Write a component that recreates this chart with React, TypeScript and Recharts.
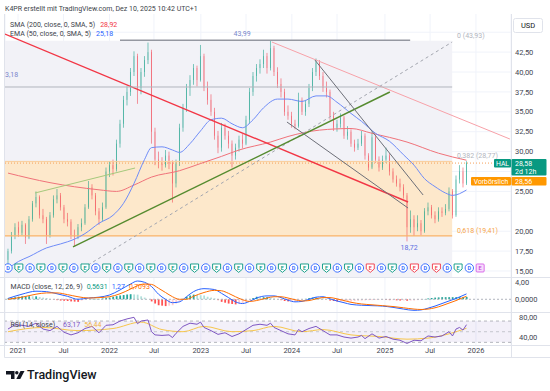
import React from 'react';
import { ComposedChart, Bar, Line, XAxis, YAxis, CartesianGrid, ReferenceLine, ReferenceArea, Scatter, Cell } from 'recharts';

const FONT = "Roboto, 'Noto Sans', 'Liberation Sans', sans-serif";

// Bi-weekly HAL candles (index 0 = early Dec 2020, index 131 = Dec 2025)
const opens = [
  16.4,17.5,19.5,20.5,19.8,20.8,19.2,21.5,23.5,24.3,
  22.0,21.5,19.5,22.0,24.0,24.5,23.0,21.5,21.2,19.5,
  19.3,20.5,21.0,23.0,25.5,24.5,22.5,21.5,23.0,27.5,
  28.3,27.8,31.0,33.5,36.5,37.5,40.0,42.0,38.0,40.0,
  41.5,42.5,32.5,29.0,28.5,28.3,29.5,28.5,26.0,28.5,
  33.0,35.5,38.0,39.0,40.5,39.0,42.0,38.0,36.5,35.0,
  32.0,30.5,33.0,32.0,31.0,29.5,30.5,31.5,31.0,34.0,
  37.5,39.5,40.5,41.0,42.0,40.5,43.0,40.0,38.5,37.5,
  35.0,34.5,33.5,33.2,36.5,35.0,36.0,38.0,40.0,41.2,
  39.5,38.0,37.5,34.5,33.0,33.5,34.3,32.0,32.5,31.0,
  30.5,31.0,32.0,29.5,28.0,31.8,29.0,28.0,29.0,29.5,
  27.5,26.5,26.0,25.5,24.5,20.5,21.5,20.5,21.0,20.0,
  22.5,23.0,22.0,21.5,22.5,22.3,22.8,25.0,22.0,26.5,
  27.5,26.0,
];
const highs = [
  17.8,19.9,21.0,21.2,21.3,21.0,21.9,23.8,25.0,24.5,
  22.8,21.8,22.4,24.5,25.3,24.8,23.3,22.3,21.5,20.2,
  20.9,21.6,23.4,26.3,25.9,24.8,22.9,23.6,28.0,28.8,
  29.0,31.5,34.0,37.0,38.2,40.5,42.6,42.3,40.5,42.0,
  43.7,42.8,33.0,30.0,29.3,30.2,30.0,28.9,29.0,33.5,
  36.0,38.5,39.6,41.0,40.8,43.4,42.3,38.8,37.2,35.5,
  32.6,33.6,33.5,32.6,31.4,31.0,32.0,32.2,34.5,38.0,
  40.0,41.0,41.6,42.8,42.4,43.99,43.3,40.6,39.2,37.9,
  35.8,35.0,34.0,37.4,36.8,36.5,38.5,40.5,41.7,41.5,
  40.0,38.8,37.8,35.0,34.0,34.8,34.5,33.2,32.8,31.5,
  31.6,32.6,32.3,29.8,32.5,32.0,29.4,29.5,30.5,29.8,
  27.9,27.0,26.6,25.9,24.8,22.6,22.0,22.0,21.4,22.9,
  23.6,23.3,22.5,23.0,23.0,23.4,25.5,25.3,27.0,28.3,
  28.0,28.8,
];
const lows = [
  15.9,17.2,19.0,19.3,19.5,18.4,19.0,21.2,23.0,21.6,
  21.0,18.4,19.2,21.7,23.5,22.6,21.0,20.6,19.0,18.1,
  19.0,20.0,20.8,22.8,24.0,22.0,20.8,21.2,22.8,26.8,
  27.0,27.5,30.5,33.0,35.8,37.0,39.5,36.0,37.2,39.4,
  41.0,31.0,28.3,27.9,27.6,28.0,27.8,23.6,25.5,28.2,
  32.5,35.0,37.0,38.4,38.2,38.8,37.6,35.9,34.5,31.5,
  29.8,30.0,31.5,30.4,28.0,29.0,30.0,30.4,30.8,33.5,
  37.0,38.8,39.8,40.5,39.8,40.2,39.5,38.0,36.8,34.5,
  34.0,33.0,32.8,33.0,34.6,34.5,35.6,37.6,39.5,39.0,
  37.5,36.8,34.0,32.6,32.5,33.0,31.6,31.5,30.6,30.0,
  30.2,30.7,29.0,27.6,27.8,28.6,27.5,27.7,28.6,27.0,
  26.1,25.6,25.0,24.1,18.72,19.8,19.4,20.0,19.5,19.8,
  22.0,21.6,21.0,21.2,21.8,22.0,22.5,21.6,21.8,26.0,
  25.5,25.8,
];
const closes = [
  17.5,19.5,20.5,19.8,20.8,19.2,21.5,23.5,24.3,22.0,
  21.5,19.5,22.0,24.0,24.5,23.0,21.5,21.2,19.5,19.3,
  20.5,21.0,23.0,25.5,24.5,22.5,21.5,23.0,27.5,28.3,
  27.8,31.0,33.5,36.5,37.5,40.0,42.0,38.0,40.0,41.5,
  42.5,32.5,29.0,28.5,28.3,29.5,28.5,26.0,28.5,33.0,
  35.5,38.0,39.0,40.5,39.0,42.0,38.0,36.5,35.0,32.0,
  30.5,33.0,32.0,31.0,29.5,30.5,31.5,31.0,34.0,37.5,
  39.5,40.5,41.0,42.0,40.5,43.0,40.0,38.5,37.5,35.0,
  34.5,33.5,33.2,36.5,35.0,36.0,38.0,40.0,41.2,39.5,
  38.0,37.5,34.5,33.0,33.5,34.3,32.0,32.5,31.0,30.5,
  31.0,32.0,29.5,28.0,31.8,29.0,28.0,29.0,29.5,27.5,
  26.5,26.0,25.5,24.5,20.5,21.5,20.5,21.0,20.0,22.5,
  23.0,22.0,21.5,22.5,22.3,22.8,25.0,22.0,26.5,27.5,
  26.0,28.58,
];

// Moving averages (read at sample candles)
const emaIdx = [0,3,6,11,15,19,22,26,30,33,36,39,41,44,47,49,52,55,58,61,64,67,70,73,77,80,84,88,91,94,98,101,105,109,113,116,119,122,125,127,131];
const emaVals = [15.3,16.2,16.8,17.9,18.4,19.0,19.7,21.0,22.0,23.5,26.0,29.0,30.5,30.6,30.2,29.9,31.0,32.6,34.0,34.2,33.5,33.0,34.0,35.5,36.6,36.6,36.3,37.0,37.0,36.2,34.8,33.8,32.3,31.3,29.6,28.3,26.6,25.6,24.8,24.5,25.18];
const smaIdx = [0,12,26,31,36,41,49,55,61,66,75,80,89,98,104,114,123,131];
const smaVals = [27.3,26.1,25.2,25.0,25.8,26.8,27.6,28.5,29.4,30.2,31.2,31.9,32.7,32.9,32.3,31.2,29.8,28.92];

// MACD
const macdIdx = [0,4,8,11,14,17,20,23,26,29,32,35,37,39,41,43,45,47,49,51,53,56,59,61,63,65,67,69,71,74,76,78,80,82,84,86,88,90,92,94,96,98,101,104,107,110,113,116,118,120,122,124,126,128,130,131];
const macdVals = [0.2,1.2,1.9,1.8,1.3,0.7,0.0,0.3,0.5,1.0,2.2,3.6,4.3,4.0,3.0,1.2,0.0,-0.8,-0.6,0.6,1.8,2.5,2.3,1.4,0.4,-0.6,-1.0,-0.5,0.3,0.8,0.8,0.4,-0.2,-0.6,-0.5,0.0,0.5,0.6,0.1,-0.4,-0.8,-1.2,-1.4,-1.5,-1.6,-1.9,-2.3,-2.6,-2.5,-2.1,-1.6,-1.0,-0.4,0.2,0.9,1.27];
const signalVals = [0.0,0.5,1.2,1.5,1.5,1.1,0.6,0.3,0.4,0.6,1.3,2.4,3.2,3.6,3.5,2.6,1.6,0.6,0.0,0.0,0.7,1.6,2.1,2.0,1.4,0.6,-0.1,-0.5,-0.3,0.3,0.6,0.6,0.3,-0.1,-0.4,-0.3,0.1,0.4,0.4,0.1,-0.3,-0.7,-1.1,-1.3,-1.5,-1.7,-2.0,-2.3,-2.4,-2.3,-2.0,-1.5,-0.9,-0.3,0.4,0.71];
const histVals = [
  0.2,0.35,0.5,0.6,0.7,0.72,0.72,0.7,0.7,0.55,
  0.4,0.3,0.1,-0.05,-0.2,-0.3,-0.35,-0.4,-0.5,-0.55,
  -0.6,-0.3,-0.1,0.0,0.05,0.1,0.1,0.2,0.3,0.4,
  0.6,0.75,0.9,1.0,1.1,1.2,1.15,1.1,0.7,0.4,
  0.0,-0.5,-1.0,-1.4,-1.5,-1.6,-1.5,-1.4,-1.0,-0.6,
  0.1,0.6,0.9,1.1,1.0,0.95,0.9,0.6,0.4,0.2,
  -0.2,-0.6,-0.8,-1.0,-1.1,-1.2,-1.0,-0.9,-0.5,0.0,
  0.3,0.6,0.5,0.5,0.5,0.35,0.2,0.0,-0.2,-0.4,
  -0.5,-0.5,-0.5,-0.3,-0.1,0.1,0.3,0.4,0.4,0.3,
  0.2,0.0,-0.3,-0.4,-0.5,-0.5,-0.5,-0.5,-0.5,-0.4,
  -0.35,-0.3,-0.25,-0.2,-0.2,-0.15,-0.1,-0.1,-0.15,-0.2,
  -0.2,-0.25,-0.3,-0.3,-0.35,-0.3,-0.3,-0.2,-0.1,0.05,
  0.2,0.3,0.4,0.45,0.5,0.5,0.5,0.5,0.5,0.5,
  0.5,0.56,
];

// RSI
const rsiIdx = [0,2,4,6,8,10,12,14,16,18,20,22,24,26,28,30,32,34,36,37,38,40,41,42,44,46,47,48,50,52,54,55,56,58,60,62,64,66,68,70,72,74,75,76,78,80,82,83,84,86,88,90,92,94,96,98,100,101,102,104,106,108,110,112,114,116,118,120,122,124,126,127,128,129,130,131];
const rsiVals = [55,63,62,60,66,55,52,60,49,44,48,56,60,48,62,63,70,74,77,65,70,72,50,44,43,44,39,47,60,66,64,68,58,52,45,48,41,46,54,62,64,62,66,58,52,46,44,54,50,56,60,52,44,44,40,38,40,43,37,46,38,41,36,34,28,34,33,42,40,42,50,42,55,58,53,63.17];
const rsiMaIdx = [0,10,20,30,38,44,50,56,64,70,76,84,90,98,106,114,120,126,131];
const rsiMaVals = [50,58,52,56,68,54,50,60,50,52,60,50,54,44,41,36,38,46,56.44];

// Axes
const xTickIdx = [2.86,15.86,29.0,41.7,55.1,68.0,81.1,94.0,107.7,120.6,133.7];
const xTickLabels = ['2021','Jul','2022','Jul','2023','Jul','2024','Jul','2025','Jul','2026'];
const priceTicks = [15,17.5,20,25,30,32.5,35,37.5,40,42.5];
const gridPrices = [15,17.5,20,22.5,25,27.5,30,32.5,35,37.5,40,42.5,45];

// Events (dividends / earnings)
const eventIdx = [0,3.1,6.3,9.4,12.5,15.7,18.8,22.0,25.1,28.2,31.4,34.5,37.6,40.8,43.9,47.1,50.2,53.3,56.5,59.6,62.7,65.9,69.0,72.2,75.3,78.4,81.6,84.7,87.8,91.0,94.1,97.3,100.4,103.5,106.7,109.8,112.9,116.1,119.2,122.4,125.5,128.6,131.8,134.9];
const eventKinds = 'DEDEDEDEDEDEDEDEDEDEDEDEDEDEDEDEDRDEDRDRDEDF';

// Fibonacci levels
const fib0 = 43.93, fib382 = 28.77, fib618 = 19.41;
const lastPre = 28.56;

const X0 = -0.857, X1 = 143.71;
const Y0 = 14.246, Y1 = 47.29;

const toMap = (idx: number[], vals: number[]) => { const m = new Map<number, number>(); idx.forEach((k, j) => m.set(k, vals[j])); return m; };
const emaMap = toMap(emaIdx, emaVals);
const smaMap = toMap(smaIdx, smaVals);
const macdMap = toMap(macdIdx, macdVals);
const sigMap = toMap(macdIdx, signalVals);
const rsiMap = toMap(rsiIdx, rsiVals);
const rsiMaMap = toMap(rsiMaIdx, rsiMaVals);

const mainData = closes.map((c, i) => ({
  i, o: opens[i], h: highs[i], l: lows[i], c,
  range: [lows[i], highs[i]],
  ema: emaMap.get(i), sma: smaMap.get(i),
}));
const macdData = closes.map((_, i) => ({ i, h: histVals[i], m: macdMap.get(i), s: sigMap.get(i) }));
const rsiData = closes.map((_, i) => ({ i, r: rsiMap.get(i), ma: rsiMaMap.get(i) }));
const eventData = eventIdx.map((x, k) => ({ i: x, p: 15.38, t: eventKinds[k] }));

const drawings = [
  { a: [-0.86, 44.77], b: [114.3, 23.67], color: '#f23645', w: 1.4 },
  { a: [75.4, 43.77], b: [143.4, 31.58], color: '#f7a1a8', w: 1 },
  { a: [32, 43.99], b: [114.9, 43.99], color: '#9598a1', w: 1.5 },
  { a: [-0.86, 38.12], b: [126.9, 38.12], color: '#b2b5be', w: 1 },
  { a: [22.86, 15.75], b: [126.9, 43.77], color: '#a3a6af', w: 1, dash: '3 3' },
  { a: [18.57, 18.02], b: [109.1, 37.49], color: '#558b2f', w: 1.4 },
  { a: [7.71, 24.8], b: [36.3, 27.94], color: '#a5c97c', w: 1 },
  { a: [87.7, 41.5], b: [118.6, 24.55], color: '#6d6f78', w: 1 },
  { a: [79.7, 33.72], b: [114.3, 22.91], color: '#6d6f78', w: 1 },
];

const annotations = [
  { i: 66.9, p: 43.99, text: '43,99', color: '#7986cb', dx: 0, dy: -4.6, anchor: 'middle' },
  { i: -0.86, p: 38.12, text: '3,18', color: '#7986cb', dx: 0, dy: -10.3, anchor: 'start' },
  { i: 114.6, p: 18.72, text: '18,72', color: '#5b6ee1', dx: 0, dy: 8.5, anchor: 'middle' },
  { i: 128.3, p: fib0, text: '0 (43,93)', color: '#b2b5be', dx: 0, dy: -3, anchor: 'start' },
  { i: 128.3, p: fib382, text: '0,382 (28,77)', color: '#b2b5be', dx: 0, dy: -3.7, anchor: 'start' },
  { i: 128.3, p: fib618, text: '0,618 (19,41)', color: '#f7a54a', dx: 0, dy: -3.2, anchor: 'start' },
];

const comma2 = (v: number) => v.toFixed(2).replace('.', ',');

const Candle = (props: any) => {
  const { x, y, width, height, payload } = props;
  if (!payload || height == null) return null;
  const { o, h, l, c } = payload;
  const up = c >= o;
  const color = up ? '#089981' : '#f23645';
  const span = h - l || 1;
  const yo = y + ((h - o) / span) * height;
  const yc = y + ((h - c) / span) * height;
  const cx = x + width / 2;
  return (
    <g>
      <line x1={cx} x2={cx} y1={y} y2={y + height} stroke={color} strokeWidth={0.8} strokeOpacity={0.65} />
      <rect x={x} y={Math.min(yo, yc)} width={width} height={Math.max(Math.abs(yc - yo), 0.8)} fill={color} />
    </g>
  );
};

const EventIcon = (props: any) => {
  const { cx, cy, payload } = props;
  if (cx == null) return null;
  const t = payload.t;
  if (t === 'D') {
    return (
      <g>
        <circle cx={cx} cy={cy} r={4.2} fill="#fff" stroke="#2962ff" strokeWidth={0.9} />
        <text x={cx} y={cy + 2} textAnchor="middle" fontSize={5.5} fill="#2962ff" fontFamily={FONT} fontWeight={600}>D</text>
      </g>
    );
  }
  if (t === 'F') {
    return (
      <g>
        <rect x={cx - 4} y={cy - 4} width={8} height={8} rx={1} fill="#f7dcfb" stroke="#d55fe8" strokeWidth={0.9} />
        <text x={cx} y={cy + 2} textAnchor="middle" fontSize={5.5} fill="#c43fdc" fontFamily={FONT} fontWeight={600}>E</text>
      </g>
    );
  }
  const col = t === 'R' ? '#f23645' : '#089981';
  return (
    <g>
      <path d={`M${cx - 4},${cy - 4} h8 v5 l-4,3.4 l-4,-3.4 z`} fill="#fff" stroke={col} strokeWidth={0.9} />
      <text x={cx} y={cy + 1.6} textAnchor="middle" fontSize={5.5} fill={col} fontFamily={FONT} fontWeight={600}>E</text>
    </g>
  );
};

const AnnotText = (props: any) => {
  const { cx, cy, payload } = props;
  if (cx == null) return null;
  return (
    <text x={cx + payload.dx} y={cy + payload.dy} textAnchor={payload.anchor} fontSize={7} fill={payload.color} fontFamily={FONT}>
      {payload.text}
    </text>
  );
};

const RsiTick = (props: any) => {
  const { x, y, payload } = props;
  const yy = Math.max(y, 4.5);
  return (
    <text x={x + 4} y={yy} dy="0.35em" fontSize={7.5} fill="#434651" fontFamily={FONT} textAnchor="start">
      {comma2(payload.value)}
    </text>
  );
};

const histColor = (k: number) => {
  const v = histVals[k];
  const prev = k > 0 ? histVals[k - 1] : 0;
  if (v >= 0) return v >= prev ? '#26a69a' : '#b2dfdb';
  return v < prev ? '#ff5252' : '#ffcdd2';
};

const axisTick = { fontSize: 7.5, fill: '#434651', fontFamily: FONT };
const tickLabelMap = new Map<number, string>();
xTickIdx.forEach((v, k) => tickLabelMap.set(v, xTickLabels[k]));

export default function App() {
  return (
    <div style={{ position: 'absolute', left: 0, top: 0, width: 550, height: 391, background: '#fff', overflow: 'hidden', fontFamily: FONT }}>
      {/* Main price pane */}
      <div style={{ position: 'absolute', left: 0, top: 14 }}>
        <ComposedChart width={550} height={263} data={mainData} margin={{ top: 0, right: 0, bottom: 0, left: 5 }}>
          <XAxis dataKey="i" type="number" domain={[X0, X1]} allowDataOverflow hide ticks={xTickIdx} />
          <YAxis orientation="right" width={39} type="number" domain={[Y0, Y1]} allowDataOverflow ticks={priceTicks}
            tickFormatter={comma2} tick={axisTick} tickLine={false} axisLine={false} tickSize={0} tickMargin={4} interval={0} />
          <CartesianGrid stroke="#f0f3fa" horizontalValues={gridPrices} />
          <ReferenceArea x1={X0} x2={126.9} y1={fib382} y2={fib0} fill="#f2f2f7" fillOpacity={1} stroke="none" ifOverflow="hidden" />
          <ReferenceArea x1={X0} x2={126.9} y1={fib618} y2={fib382} fill="#fde8cb" fillOpacity={1} stroke="none" ifOverflow="hidden" />
          <ReferenceArea x1={X0} x2={126.9} y1={Y0} y2={fib618} fill="#f2f2f7" fillOpacity={1} stroke="none" ifOverflow="hidden" />
          <ReferenceLine segment={[{ x: X0, y: fib618 }, { x: 126.9, y: fib618 }]} stroke="#f9b36a" strokeWidth={1.2} ifOverflow="hidden" />
          <ReferenceLine segment={[{ x: X0, y: fib382 }, { x: 126.9, y: fib382 }]} stroke="#f9cc99" strokeWidth={1} ifOverflow="hidden" />
          <ReferenceLine segment={[{ x: X0, y: lastPre }, { x: X1, y: lastPre }]} stroke="#f5a05a" strokeWidth={1} strokeDasharray="1 2" ifOverflow="hidden" />
          <Line dataKey="sma" stroke="#f0727a" strokeWidth={1} dot={false} connectNulls type="monotone" isAnimationActive={false} />
          <Line dataKey="ema" stroke="#6f8cf8" strokeWidth={1} dot={false} connectNulls type="monotone" isAnimationActive={false} />
          <Bar dataKey="range" barSize={2.4} shape={<Candle />} isAnimationActive={false} />
          {drawings.map((d, k) => (
            <ReferenceLine key={k} segment={[{ x: d.a[0], y: d.a[1] }, { x: d.b[0], y: d.b[1] }]} stroke={d.color}
              strokeWidth={d.w} strokeDasharray={d.dash} ifOverflow="hidden" />
          ))}
          <Scatter data={eventData} dataKey="p" shape={<EventIcon />} isAnimationActive={false} />
          <Scatter data={annotations} dataKey="p" shape={<AnnotText />} isAnimationActive={false} />
        </ComposedChart>
      </div>

      {/* MACD pane */}
      <div style={{ position: 'absolute', left: 0, top: 278 }}>
        <ComposedChart width={550} height={34} data={macdData} margin={{ top: 0, right: 0, bottom: 0, left: 5 }}>
          <XAxis dataKey="i" type="number" domain={[X0, X1]} allowDataOverflow hide ticks={xTickIdx} />
          <YAxis orientation="right" width={39} type="number" domain={[-2.99, 5.01]} allowDataOverflow ticks={[0, 4]}
            tickFormatter={(v: number) => (v === 0 ? '0,0000' : comma2(v))} tick={axisTick} tickLine={false} axisLine={false} tickSize={0} tickMargin={4} interval={0} />
          <CartesianGrid stroke="#f0f3fa" horizontal={false} />
          <ReferenceLine y={0} stroke="#b2b5be" strokeDasharray="2 2" />
          <Bar dataKey="h" barSize={1.8} isAnimationActive={false}>
            {macdData.map((_, k) => <Cell key={k} fill={histColor(k)} />)}
          </Bar>
          <Line dataKey="m" stroke="#2962ff" strokeWidth={1} dot={false} connectNulls type="monotone" isAnimationActive={false} />
          <Line dataKey="s" stroke="#ff6d00" strokeWidth={1} dot={false} connectNulls type="monotone" isAnimationActive={false} />
        </ComposedChart>
      </div>

      {/* RSI pane + time axis */}
      <div style={{ position: 'absolute', left: 0, top: 313 }}>
        <ComposedChart width={550} height={45} data={rsiData} margin={{ top: 0, right: 0, bottom: 0, left: 5 }}>
          <XAxis dataKey="i" type="number" domain={[X0, X1]} allowDataOverflow ticks={xTickIdx} interval={0}
            tickFormatter={(v: number) => tickLabelMap.get(v) || ''} tick={axisTick} tickLine={false} axisLine={false}
            tickSize={0} tickMargin={3} height={13} />
          <YAxis orientation="right" width={39} type="number" domain={[25.05, 85.1]} allowDataOverflow ticks={[40, 80]}
            tick={<RsiTick />} tickLine={false} axisLine={false} tickSize={0} tickMargin={4} interval={0} />
          <CartesianGrid stroke="#f0f3fa" horizontal={false} />
          <ReferenceArea x1={X0} x2={X1} y1={30} y2={70} fill="#7e57c2" fillOpacity={0.09} stroke="none" ifOverflow="hidden" />
          <ReferenceLine y={70} stroke="#9598a1" strokeDasharray="3 3" strokeOpacity={0.7} />
          <ReferenceLine y={50} stroke="#b2b5be" strokeDasharray="3 3" strokeOpacity={0.7} />
          <ReferenceLine y={30} stroke="#9598a1" strokeDasharray="3 3" strokeOpacity={0.7} />
          <Line dataKey="ma" stroke="#f7c64b" strokeWidth={1} dot={false} connectNulls type="monotone" isAnimationActive={false} />
          <Line dataKey="r" stroke="#7e57c2" strokeWidth={1} dot={false} connectNulls type="linear" isAnimationActive={false} />
        </ComposedChart>
      </div>

      {/* Chrome overlay: header, legends, price labels, separators, logo */}
      <svg width={550} height={391} style={{ position: 'absolute', left: 0, top: 0, pointerEvents: 'none' }} fontFamily={FONT}>
        <line x1={0} x2={550} y1={277.5} y2={277.5} stroke="#e0e3eb" />
        <line x1={0} x2={550} y1={312.5} y2={312.5} stroke="#e0e3eb" />
        <line x1={0} x2={550} y1={345.5} y2={345.5} stroke="#e0e3eb" />
        <line x1={4.5} x2={550} y1={357.5} y2={357.5} stroke="#e0e3eb" />
        <line x1={511.5} x2={511.5} y1={14} y2={357.5} stroke="#e0e3eb" />
        <line x1={4.5} x2={4.5} y1={14} y2={357.5} stroke="#e0e3eb" />

        <text x={5} y={10.5} fontSize={7} fill="#3c3f4a">K4PR erstellt mit TradingView.com, Dez 10, 2025 10:42 UTC+1</text>
        <text x={10} y={26.5} fontSize={7} fill="#3c3f4a">SMA (200, close, 0, SMA, 5)<tspan dx={5} fill="#f23645">28,92</tspan></text>
        <text x={10} y={35.5} fontSize={7} fill="#3c3f4a">EMA (50, close, 0, SMA, 5)<tspan dx={5} fill="#2962ff">25,18</tspan></text>

        <text x={10.5} y={288.5} fontSize={7} fill="#3c3f4a">MACD (close, 12, 26, 9)<tspan dx={4} fill="#089981">0,5631</tspan><tspan dx={4} fill="#2962ff">1,27</tspan><tspan dx={4} fill="#ff6d00">0,7093</tspan></text>
        <text x={10.5} y={327} fontSize={7} fill="#3c3f4a">RSI (14, close)<tspan dx={8} fill="#7e57c2">63,17</tspan><tspan dx={4} fill="#f2b33d">56,44</tspan></text>

        <rect x={513.5} y={18.5} width={29} height={14} rx={2} fill="#fff" stroke="#e0e3eb" />
        <text x={528} y={28} fontSize={7.5} fill="#131722" textAnchor="middle">USD</text>

        <rect x={494} y={159} width={17} height={8.5} rx={1} fill="#089981" />
        <text x={502.5} y={165.7} fontSize={6.8} fill="#fff" textAnchor="middle">HAL</text>
        <rect x={511.5} y={159} width={35} height={16.5} rx={1} fill="#089981" />
        <text x={515} y={165.7} fontSize={7} fill="#fff">28,58</text>
        <text x={515} y={173.5} fontSize={7} fill="#fff">2d 12h</text>
        <rect x={471} y={177} width={40} height={8.5} rx={1} fill="#ff9800" />
        <text x={491} y={183.7} fontSize={6.8} fill="#fff" textAnchor="middle">Vorbörslich</text>
        <rect x={511.5} y={177} width={35} height={8.5} rx={1} fill="#ff9800" />
        <text x={515} y={183.7} fontSize={7} fill="#fff">28,56</text>

        <g fill="#131722">
          <path d="M6,371 h8.5 v8 h-3.5 v-4.6 h-5 z" />
          <circle cx={16.8} cy={372.7} r={1.7} />
          <path d="M20.5,371 h4 l-4.2,8 h-4 z" />
        </g>
        <text x={27} y={379} fontSize={12.5} fill="#131722" fontWeight={500}>TradingView</text>
      </svg>
    </div>
  );
}
